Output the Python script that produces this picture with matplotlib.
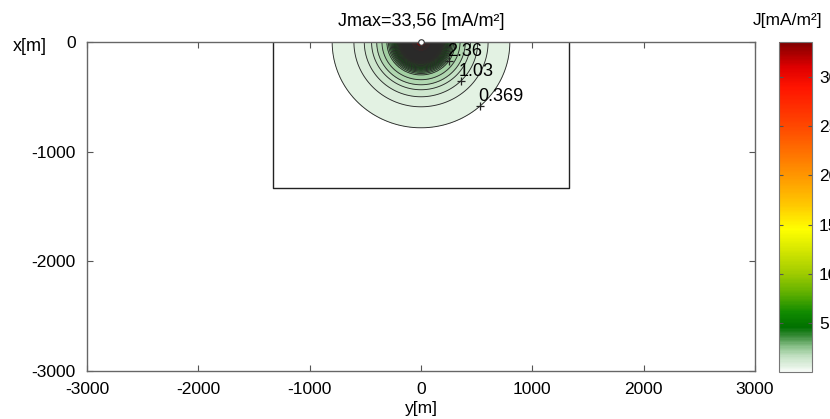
import numpy as np
import matplotlib
matplotlib.use("Agg")
import matplotlib.pyplot as plt
from matplotlib.colors import LinearSegmentedColormap, Normalize
from matplotlib.cm import ScalarMappable

plt.rcParams['font.family'] = ['Liberation Sans', 'DejaVu Sans']
plt.rcParams['axes.unicode_minus'] = False

# values
j_max = 33.56
n_levels = 100
first_level = 0.369
prof_r = [0, 40, 86, 100, 120, 150, 200, 250, 300, 345, 391, 436, 500, 591, 782, 1000, 1500, 4300]
prof_j = [33.56, 33.0, 30.0, 24.5, 17.0, 10.9, 6.1, 3.9, 2.36, 2.02, 1.69, 1.36, 1.03, 0.70, 0.369, 0.24, 0.11, 0.013]
aniso = 1.02  # contours a bit wider than deep

box_half = 1330
box_depth = 1330

# labelled contours: index in level list, angle on contour (deg)
label_idx = [6, 2, 0]
label_ang = [-35, -45, -48]

x_ticks = [-3000, -2000, -1000, 0, 1000, 2000, 3000]
y_ticks = [0, -1000, -2000, -3000]
cb_ticks = [5, 10, 15, 20, 25, 30]

cmap_pts = [0, 0.5, 1.5, 2.5, 3.5, 4.5, 6, 8, 10, 12.5, 14.5, 17, 20, 25, 29, 31, 33.56]
cmap_cols = ['#f8fcf8', '#e4f2e4', '#c4e2c4', '#8cc28c', '#3f8f3f', '#007000', '#108a00',
             '#60b000', '#a0cc00', '#d8e800', '#ffff00', '#ffc800', '#ff9600',
             '#ff4800', '#ff1400', '#e00000', '#800000']

cmap = LinearSegmentedColormap.from_list(
    'jmap', list(zip(np.array(cmap_pts) / j_max, cmap_cols)))
norm = Normalize(0, j_max)

step = (j_max - first_level) / n_levels
levels = first_level + step * np.arange(n_levels)

yy = np.linspace(-1100, 1100, 1101)
xx = np.linspace(-1100, 0, 551)
Y, X = np.meshgrid(yy, xx)
R = np.sqrt((Y / aniso) ** 2 + X ** 2)
J = np.exp(np.interp(R, prof_r, np.log(prof_j)))

fig = plt.figure(figsize=(8.3, 4.19), dpi=100)
ax = fig.add_axes([87 / 830, 1 - 371 / 419, 668 / 830, 329 / 419])
cax = fig.add_axes([779 / 830, 1 - 372 / 419, 33 / 830, 330 / 419])

ax.contourf(Y, X, J, levels=list(levels) + [j_max + 1], cmap=cmap, norm=norm)
ax.contour(Y, X, J, levels=levels, colors='#2a2a2a', linewidths=0.65)

# domain box
ax.plot([-box_half, -box_half, box_half, box_half],
        [0, -box_depth, -box_depth, 0], color='#222222', lw=1)

# source point
ax.plot([0], [0], 'o', ms=4, mfc='white', mec='#333333', mew=0.8, clip_on=False, zorder=5)

# contour labels
for i, a in zip(label_idx, label_ang):
    lv = levels[i]
    r = np.interp(np.log(lv), np.log(prof_j[::-1]), prof_r[::-1])
    t = np.deg2rad(a)
    py, px = r * np.cos(t) * aniso, r * np.sin(t)
    ax.plot([py], [px], '+', color='#222222', ms=6, mew=0.9)
    ax.text(py - 20, px + 5, '%.3g' % lv, fontsize=13, ha='left', va='bottom')

ax.set_xlim(-3000, 3000)
ax.set_ylim(-3000, 0)
ax.set_xticks(x_ticks)
ax.set_yticks(y_ticks)
ax.tick_params(direction='in', length=4, width=0.8, labelsize=12.5, pad=8,
               top=True, right=True, colors='#555555', labelcolor='black')
for s in ax.spines.values():
    s.set_color('#666666')
    s.set_linewidth(1)

fig.text(421 / 830, 1 - 21 / 419, 'Jmax=33,56 [mA/m²]', fontsize=13, ha='center', va='center')
fig.text(30 / 830, 1 - 46 / 419, 'x[m]', fontsize=13, ha='center', va='center')
fig.text(421 / 830, 1 - 408 / 419, 'y[m]', fontsize=12.5, ha='center', va='center')
fig.text(788 / 830, 1 - 21 / 419, 'J[mA/m²]', fontsize=12.5, ha='center', va='center')

sm = ScalarMappable(norm=norm, cmap=cmap)
cb = fig.colorbar(sm, cax=cax)
cb.set_ticks(cb_ticks)
cb.ax.tick_params(direction='in', length=3, width=0.8, labelsize=12.5, pad=5,
                  left=True, right=True, colors='#555555', labelcolor='black')
cb.outline.set_edgecolor('#777777')

fig.savefig('out.png', dpi=100)
